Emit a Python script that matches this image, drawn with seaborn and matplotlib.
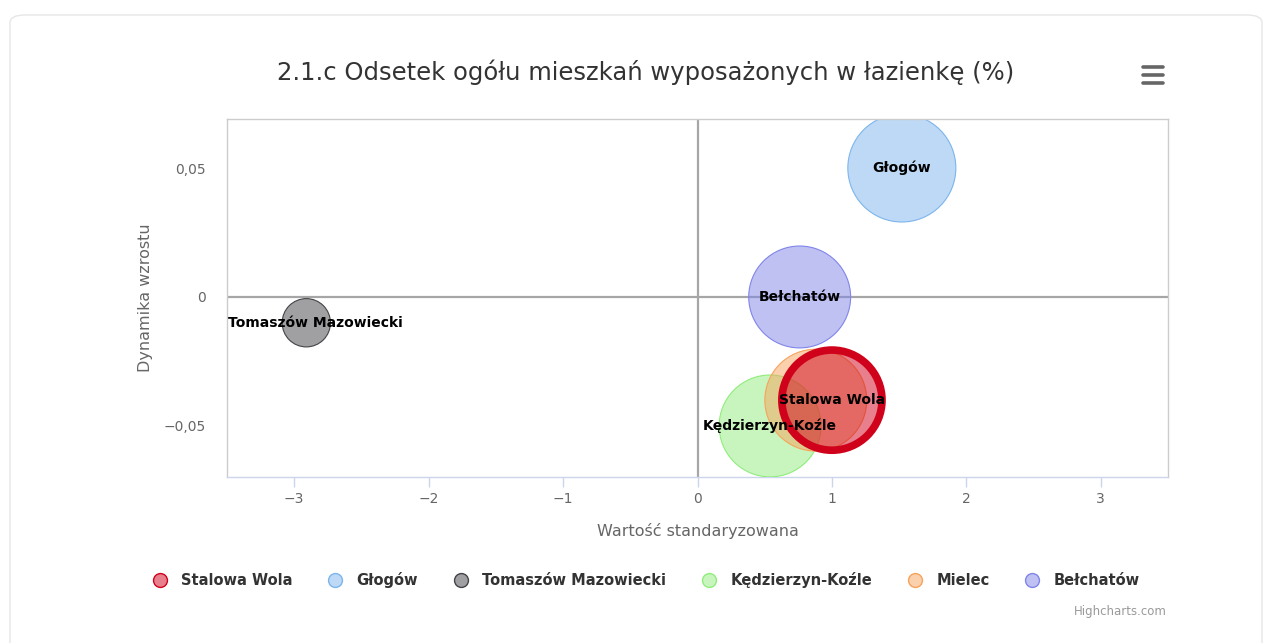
import matplotlib
matplotlib.use("Agg")
import matplotlib.pyplot as plt
import seaborn as sns
import numpy as np
import pandas as pd
from matplotlib.lines import Line2D
from matplotlib.patches import FancyBboxPatch
from matplotlib.ticker import FixedLocator, FuncFormatter

# ---------------- data ----------------
names = ["Stalowa Wola", "Głogów", "Tomaszów Mazowiecki", "Kędzierzyn-Koźle", "Mielec", "Bełchatów"]
x_std = [1.0, 1.52, -2.91, 0.54, 0.88, 0.76]          # Wartość standaryzowana
y_dyn = [-0.040, 0.050, -0.010, -0.050, -0.040, 0.000]  # Dynamika wzrostu
bubble_z = [86, 100, 20, 89, 89, 89]                    # bubble size values
colors = ["#d0021b", "#7cb5ec", "#434348", "#90ed7d", "#f7a35c", "#8085e9"]
x_ticks = [-3, -2, -1, 0, 1, 2, 3]
y_ticks = [-0.05, 0.0, 0.05]
title = "2.1.c Odsetek ogółu mieszkań wyposażonych w łazienkę (%)"
x_title = "Wartość standaryzowana"
y_title = "Dynamika wzrostu"

df = pd.DataFrame({"name": names, "x": x_std, "y": y_dyn, "z": bubble_z, "color": colors})

W, H = 1268, 643
sns.set_theme(style="white")
plt.rcParams["font.family"] = ["DejaVu Sans"]
fig = plt.figure(figsize=(W / 100, H / 100), dpi=100)
fig.patch.set_facecolor("white")

# container
fig.patches.append(FancyBboxPatch((10 / W, -0.05), (1252) / W, (H - 15) / H + 0.05,
                                  boxstyle="round,pad=0,rounding_size=0.012",
                                  transform=fig.transFigure, facecolor="white",
                                  edgecolor="#e6e6e6", linewidth=1.0, zorder=-5))

ax = fig.add_axes([227 / W, 1 - 477 / H, (1168 - 227) / W, (477 - 119) / H])
ax.set_zorder(2)
ax.set_facecolor("none")
ax.set_xlim(-3.5, 3.5)
ax.set_ylim(-0.0698, 0.069)

# zero plot lines
ax.axhline(0, color="#a6a6a6", lw=1.6, zorder=1)
ax.axvline(0, color="#a6a6a6", lw=1.6, zorder=1)

R_MAX = 54.0  # px radius of largest bubble
zmax = max(bubble_z)
order = [1, 2, 3, 4, 5, 0]  # highlighted Stalowa Wola on top
for i in order:
    row = df.iloc[i]
    r = R_MAX * np.sqrt(row.z / zmax)
    s = (2 * r * 0.72) ** 2
    highlighted = row["name"] == "Stalowa Wola"
    sns.scatterplot(x=[row.x], y=[row.y], ax=ax, s=s, color=row.color, alpha=0.5,
                    edgecolor="none", linewidth=0, zorder=2 + order.index(i), legend=False)
    sns.scatterplot(x=[row.x], y=[row.y], ax=ax, s=s, facecolor="none",
                    edgecolor=row.color, linewidth=(5.5 if highlighted else 0.8),
                    zorder=2 + order.index(i), legend=False)

# axes styling
for side in ["top", "right", "left"]:
    ax.spines[side].set_color("#cccccc")
    ax.spines[side].set_linewidth(1)
ax.spines["bottom"].set_color("#ccd6eb")
ax.spines["bottom"].set_linewidth(1)

def fmt_minus(v, pos):
    s = f"{v:g}"
    return s.replace("-", "\u2212")

def fmt_y(v, pos):
    if abs(v) < 1e-12:
        return "0"
    s = f"{v:.2f}".replace(".", ",")
    return s.replace("-", "\u2212")

ax.xaxis.set_major_locator(FixedLocator(x_ticks))
ax.xaxis.set_major_formatter(FuncFormatter(fmt_minus))
ax.yaxis.set_major_locator(FixedLocator(y_ticks))
ax.yaxis.set_major_formatter(FuncFormatter(fmt_y))
ax.tick_params(axis="x", which="major", bottom=True, length=7, width=1, color="#ccd6eb",
               labelsize=10, labelcolor="#666666", pad=4)
ax.tick_params(axis="y", which="major", left=False, labelsize=10, labelcolor="#666666", pad=9)
ax.grid(False)

ax.set_xlabel(x_title, fontsize=11.5, color="#666666", labelpad=12)
ax.set_ylabel(y_title, fontsize=11.5, color="#666666", labelpad=8)

fig.text(646 / W, 1 - 72 / H, title, ha="center", va="center", fontsize=17.5, color="#333333")

# data labels (Highcharts-like: justified inside plot, overlapping ones hidden)
fig.canvas.draw()
renderer = fig.canvas.get_renderer()
ax_bb = ax.get_window_extent(renderer)
placed = []
for i, row in df.iterrows():
    t = ax.text(row.x, row.y, row["name"], ha="center", va="center", fontsize=10,
                fontweight="bold", color="#000000", zorder=20)
    bb = t.get_window_extent(renderer)
    dx = 0
    if bb.x0 < ax_bb.x0 + 1:
        dx = ax_bb.x0 + 1 - bb.x0
    elif bb.x1 > ax_bb.x1 - 1:
        dx = ax_bb.x1 - 1 - bb.x1
    if dx:
        px, py = ax.transData.transform((row.x, row.y))
        nx, ny = ax.transData.inverted().transform((px + dx, py))
        t.set_position((nx, ny))
        bb = t.get_window_extent(renderer)
    if any(bb.overlaps(p) for p in placed):
        t.remove()
        continue
    placed.append(bb)

# legend
handles = [Line2D([0], [0], marker="o", linestyle="none", markersize=10,
                  markerfacecolor=matplotlib.colors.to_rgba(c, 0.5), markeredgecolor=c,
                  markeredgewidth=1.0) for c in colors]
leg = fig.legend(handles, names, loc="center", bbox_to_anchor=(646 / W, 1 - 580 / H),
                 ncol=len(names), frameon=False, handletextpad=0.95, columnspacing=2.45,
                 prop={"weight": "bold", "size": 10.5}, handlelength=1.0)
for t in leg.get_texts():
    t.set_color("#333333")

# hamburger icon
for yy in [67, 75, 83]:
    fig.add_artist(Line2D([1143 / W, 1163 / W], [1 - yy / H, 1 - yy / H], color="#666666",
                          lw=2.6, solid_capstyle="round", transform=fig.transFigure))

fig.text(1167 / W, 1 - 612 / H, "Highcharts.com", ha="right", va="center", fontsize=8.5,
         color="#999999")

fig.savefig("out.png", dpi=100, facecolor="white")
